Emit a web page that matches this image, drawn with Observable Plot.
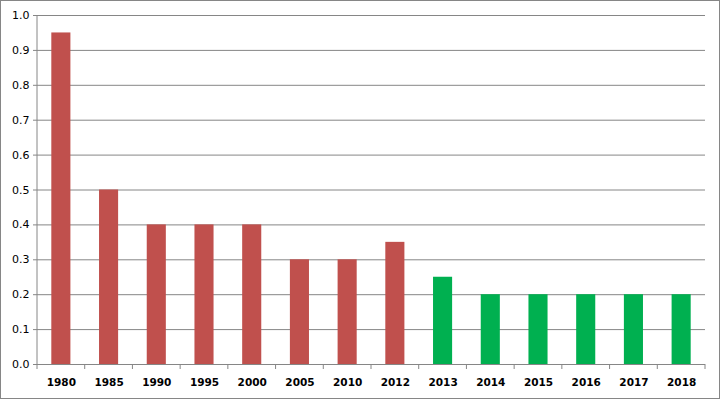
<!DOCTYPE html>
<html>
<head>
<meta charset="utf-8">
<script src="https://cdn.jsdelivr.net/npm/d3@7"></script>
<script src="https://cdn.jsdelivr.net/npm/@observablehq/plot@0.6"></script>
<style>
  html, body { margin: 0; padding: 0; background: #fff; }
  #frame { width: 718px; height: 397px; border: 1px solid #868686; background: #fff; }
  svg { display: block; }
</style>
</head>
<body>
<div id="frame"></div>
<script>
const years = ["1980","1985","1990","1995","2000","2005","2010","2012","2013","2014","2015","2016","2017","2018"];
const values = [0.95, 0.5, 0.4, 0.4, 0.4, 0.3, 0.3, 0.35, 0.25, 0.2, 0.2, 0.2, 0.2, 0.2];
const groups = ["past","past","past","past","past","past","past","past","recent","recent","recent","recent","recent","recent"];
const yTicks = [0, 0.1, 0.2, 0.3, 0.4, 0.5, 0.6, 0.7, 0.8, 0.9, 1.0];
const groupNames = ["past", "recent"];
const groupColors = ["#C0504D", "#00B050"];

const data = years.map((y, i) => ({year: y, value: values[i], group: groups[i]}));

const gridColor = "#868686";

// Band-boundary ticks and left axis line, positioned through the scales
function axisDecor(index, scales, values, dims) {
  const x = scales.x, y = scales.y;
  const g = d3.create("svg:g");
  const step = x.step ? x.step() : x.bandwidth();
  const dom = x.domain();
  const y0 = y(0), y1 = y(1);
  const left = x(dom[0]) - (step - x.bandwidth()) / 2;
  g.append("line").attr("x1", left).attr("x2", left).attr("y1", y1).attr("y2", y0)
    .attr("stroke", gridColor);
  for (let i = 0; i <= dom.length; i++) {
    const px = left + i * step;
    g.append("line").attr("x1", px).attr("x2", px).attr("y1", y0).attr("y2", y0 + 5)
      .attr("stroke", gridColor);
  }
  return g.node();
}

const chart = Plot.plot({
  width: 718,
  height: 397,
  marginLeft: 36,
  marginRight: 14,
  marginTop: 14,
  marginBottom: 34,
  style: {fontFamily: "DejaVu Sans, Verdana, sans-serif", fontSize: "11px", color: "#000", background: "#fff"},
  x: {domain: years, padding: 0.6, paddingOuter: 0.3, round: false, label: null},
  y: {domain: [0, 1], label: null},
  color: {domain: groupNames, range: groupColors},
  marks: [
    Plot.gridY(yTicks, {stroke: gridColor, strokeOpacity: 1}),
    Plot.barY(data, {x: "year", y: "value", fill: "group"}),
    Plot.axisY(yTicks, {tickSize: 4, tickPadding: 4, tickFormat: d3.format(".1f"), stroke: gridColor, fill: "#000", fontSize: 11}),
    Plot.axisX({tickSize: 0, tickPadding: 14, fontWeight: "bold", fontSize: 10.5, fill: "#000"}),
    Plot.ruleY([0], {stroke: gridColor}),
    axisDecor
  ]
});
document.getElementById("frame").appendChild(chart);
</script>
</body>
</html>
